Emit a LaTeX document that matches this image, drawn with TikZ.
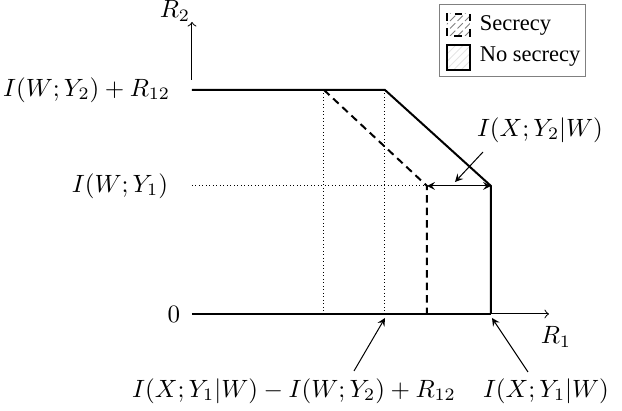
\documentclass[tikz,border=0pt]{standalone}
\usepackage{fontspec}
\newfontfamily\legendfont{Liberation Serif}
\usetikzlibrary{patterns}
\begin{document}
\begin{tikzpicture}[>=stealth,x=0.4pt,y=0.4pt]
    \useasboundingbox (-192,-97) rectangle (430,314);
    % corner points of the regions
    \coordinate (O) at (0,0);
    \coordinate (A) at (0,224);
    \coordinate (B) at (193,224);
    \coordinate (C) at (299,128);
    \coordinate (D) at (299,0);
    \coordinate (SA) at (132,224);
    \coordinate (SC) at (235,128);
    \coordinate (SD) at (235,0);
    \coordinate (SB) at (132,0);
    \coordinate (BB) at (193,0);
    \coordinate (M) at (0,128);
    \coordinate (Xend) at (357,0);
    \coordinate (Ybot) at (0,234);
    \coordinate (Yend) at (0,292);
    % dotted guides
    \draw[densely dotted] (SA) -- (SB);
    \draw[densely dotted] (B) -- (BB);
    \draw[densely dotted] (M) -- (SC);
    % axes
    \draw[-to] (D) -- (Xend);
    \draw[-to] (Ybot) -- (Yend);
    % no secrecy and secrecy regions
    \draw[thick] (O) -- (D);
    \draw[thick] (A) -- (B) -- (C) -- (D);
    \draw[thick,dash pattern=on 3pt off 2pt] (SA) -- (SC) -- (SD);
    \draw[<->] (SC) -- (C);
    % axis labels
    \node (R2) at (-17,303) {$R_2$};
    \node (R1) at (364,-23) {$R_1$};
    \node (Z) at (-18,0) {$0$};
    \node[left] (IW2) at (-13,224) {$I(W;Y_2)+R_{12}$};
    \node[left] (IW1) at (-15,128) {$I(W;Y_1)$};
    % pointers
    \node (IX2) at (348,184) {$I(X;Y_2|W)$};
    \coordinate (p1) at (291,162);
    \coordinate (q1) at (263,132);
    \draw[->] (p1) -- (q1);
    \node (IL) at (102,-77) {$I(X;Y_1|W)-I(W;Y_2)+R_{12}$};
    \node (IR) at (354,-77) {$I(X;Y_1|W)$};
    \coordinate (p2) at (162,-57);
    \coordinate (p3) at (336,-58);
    \draw[->] (p2) -- ([yshift=-4*0.4pt]BB);
    \draw[->] (p3) -- ([xshift=0.4pt,yshift=-4*0.4pt]D);
    % legend
    \node[draw=gray,minimum width=146*0.4pt,minimum height=72*0.4pt] (LG) at (321,273) {};
    \draw[thick,dashed,pattern=north east lines,pattern color=gray] (255,278) rectangle (278,300);
    \draw[thick,pattern=north east lines,pattern color=gray!20] (255,244) rectangle (278,269);
    \node[anchor=west,font=\legendfont\small] (LS) at (279,289) {Secrecy};
    \node[anchor=west,font=\legendfont\small] (LN) at (279,257) {No secrecy};
\end{tikzpicture}
\end{document}
